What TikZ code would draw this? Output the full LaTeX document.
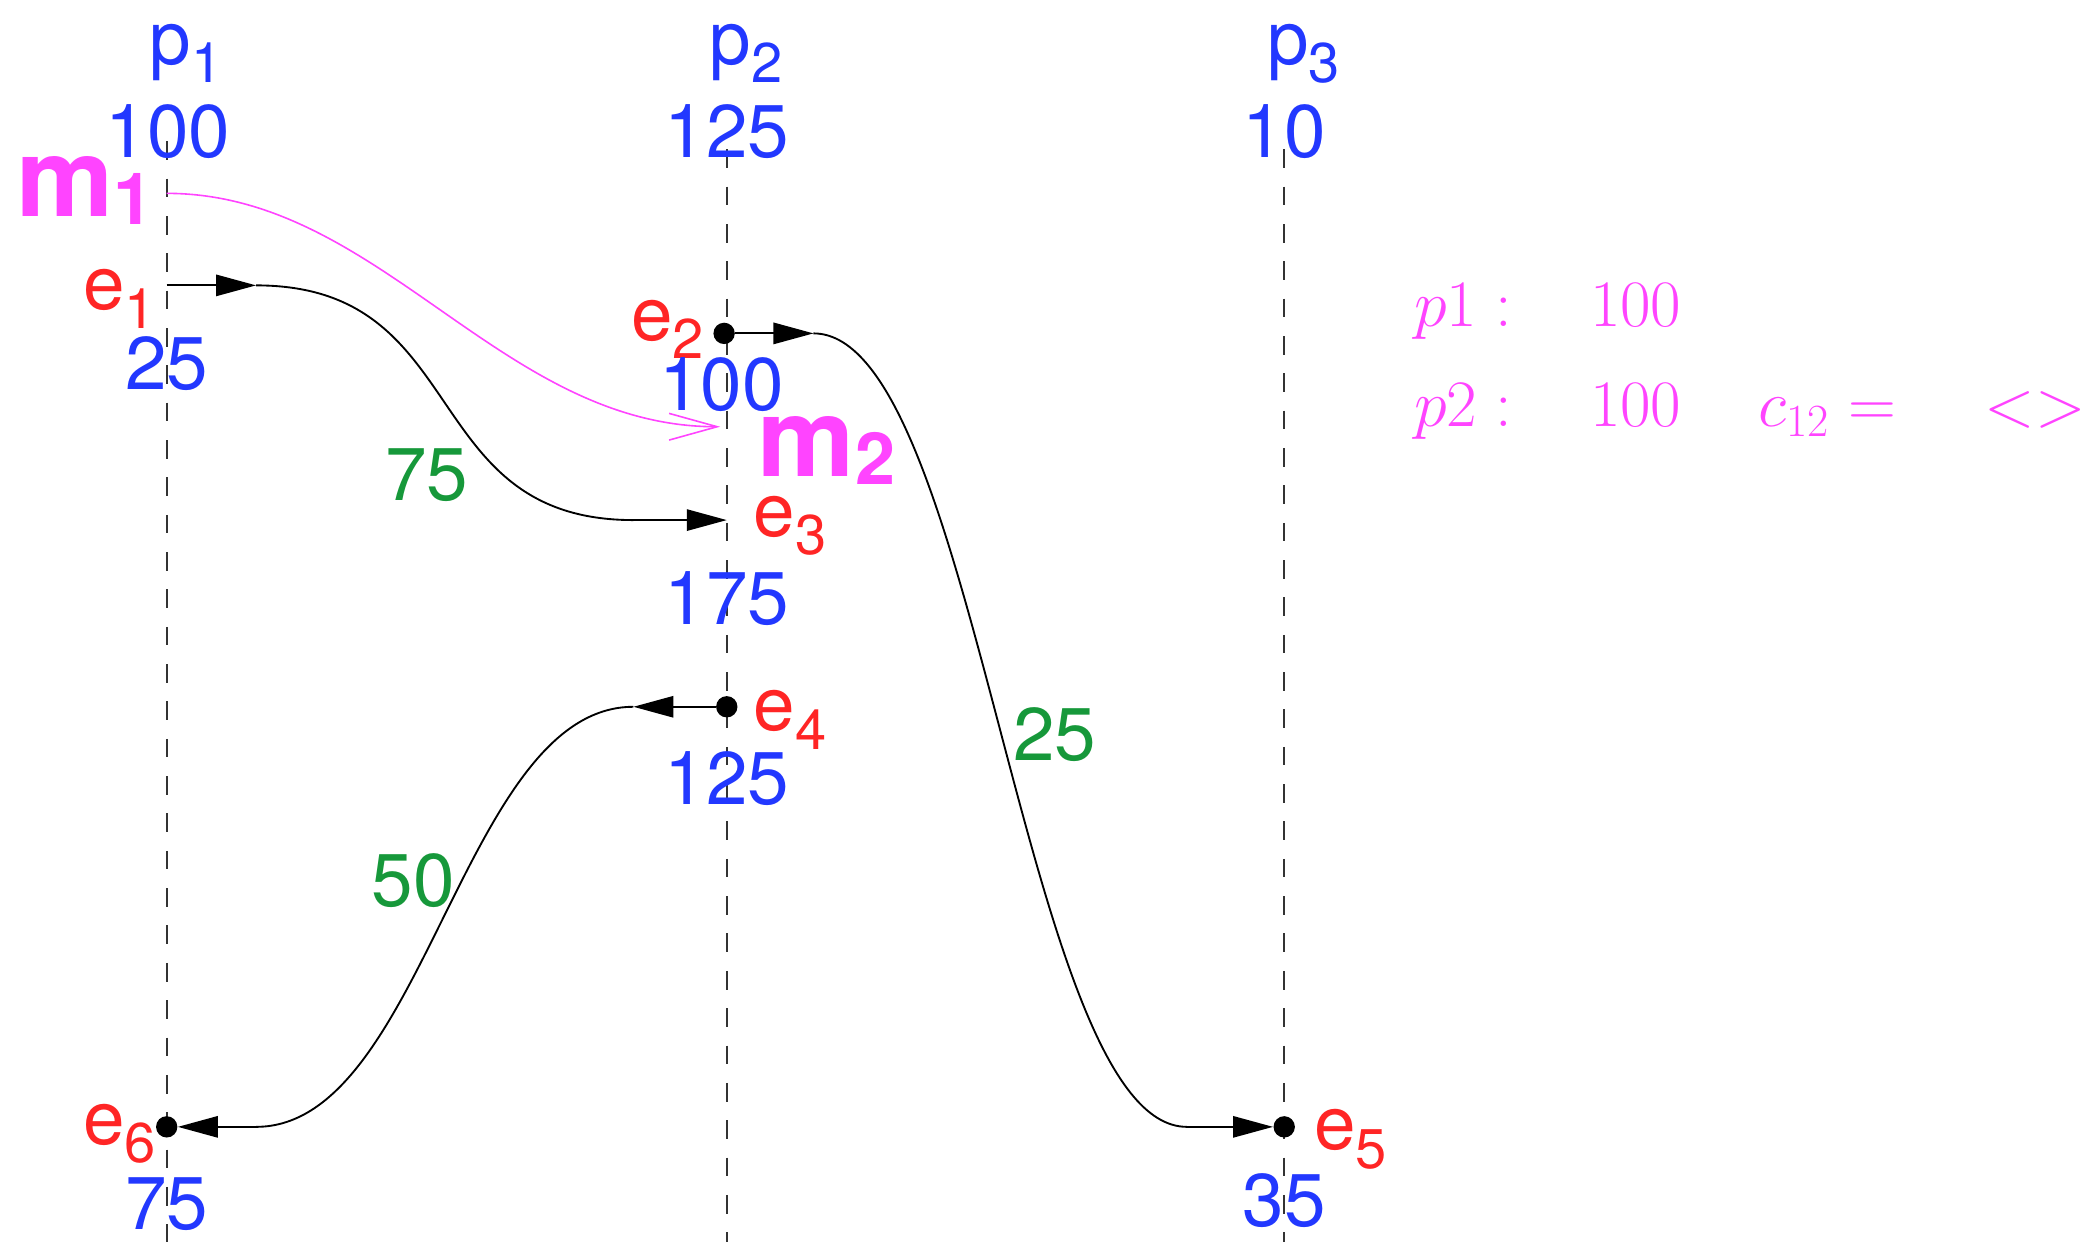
\documentclass[tikz,border=0pt]{standalone}
\usepackage[no-math]{fontspec}
\setmainfont{TeX Gyre Heros}
\usetikzlibrary{arrows.meta}
\definecolor{pblue}{HTML}{2238FF}
\definecolor{pred}{HTML}{FF2525}
\definecolor{pgreen}{HTML}{16983A}
\definecolor{pmag}{HTML}{FF44FF}
\newcommand\lsub[1]{\raisebox{-7pt}{\fontsize{21}{21}\selectfont #1}}
\newcommand\msub[1]{\raisebox{-3pt}{\fontsize{27}{27}\selectfont\bfseries #1}}
\begin{document}
\begin{tikzpicture}[x=0.5pt,y=-0.5pt,
  lbl/.style={inner sep=0pt, font=\fontsize{28}{30}\selectfont},
  proc/.style={lbl, text=pblue, anchor=base west},
  val/.style={lbl, text=pblue, anchor=base},
  ev/.style={lbl, text=pred, anchor=base west},
  dly/.style={lbl, text=pgreen, anchor=base},
  mlbl/.style={inner sep=0pt, text=pmag, anchor=base west, font=\fontsize{41}{45}\selectfont\bfseries},
  mtxt/.style={inner sep=0pt, text=pmag, anchor=base west, font=\fontsize{27}{30}\selectfont},
  life/.style={draw=black!80, line width=0.7pt, dash pattern=on 7pt off 7pt},
  msg/.style={draw=black, line width=0.7pt},
  tip/.style={-{Triangle[length=15pt,width=8pt]}},
  dot/.style={circle, fill=black, inner sep=0pt, minimum size=8pt},
  mmsg/.style={draw=pmag, line width=0.6pt, -{Straight Barb[length=18pt,width=10pt]}}
]
\useasboundingbox (0,0) rectangle (1568,931);

% lifelines
\coordinate (t1) at (125,106); \coordinate (b1) at (125,931);
\coordinate (t2) at (545,112); \coordinate (b2) at (545,931);
\coordinate (t3) at (963,112); \coordinate (b3) at (963,931);
\draw[life] (t1) -- (b1);
\draw[life] (t2) -- (b2);
\draw[life] (t3) -- (b3);

% events
\coordinate (E1) at (125,214);
\node[dot] (E2) at (543,250) {};
\coordinate (E3) at (545,390);
\node[dot] (E4) at (545,530) {};
\node[dot] (E5) at (963,845) {};
\node[dot] (E6) at (125,845) {};
\coordinate (M1) at (125,145);
\coordinate (M2) at (540,320);

% message e1 -> e3
\coordinate (a1) at (192,214); \coordinate (c1) at (475,390);
\draw[msg,tip] (E1) -- (a1);
\draw[msg] (a1) .. controls (355,214) and (312,390) .. (c1);
\draw[msg,tip] (c1) -- (E3);

% message e2 -> e5
\coordinate (a2) at (610,250); \coordinate (c2) at (890,845);
\draw[msg,tip] (E2) -- (a2);
\draw[msg] (a2) .. controls (733,250) and (767,845) .. (c2);
\draw[msg,tip] (c2) -- (E5);

% message e4 -> e6
\coordinate (a4) at (475,530); \coordinate (c4) at (192,845);
\draw[msg,tip] (E4) -- (a4);
\draw[msg] (a4) .. controls (347,530) and (318,845) .. (c4);
\draw[msg,tip] (c4) -- (E6);

% marker message m1 -> m2
\draw[mmsg] (M1) .. controls (285,145) and (375,320) .. (M2);

% process labels
\node[proc] (p1) at (112,48) {p\lsub{1}};
\node[proc] (p2) at (532,48) {p\lsub{2}};
\node[proc] (p3) at (950,48) {p\lsub{3}};
\node[val] (v1) at (126,118) {100};
\node[val] (v2) at (545,118) {125};
\node[val] (v3) at (963,118) {10};

% event labels
\node[ev] (le1) at (62,232) {e\lsub{1}};
\node[ev] (le2) at (473,255) {e\lsub{2}};
\node[ev] (le3) at (565,402) {e\lsub{3}};
\node[ev] (le4) at (565,548) {e\lsub{4}};
\node[ev] (le5) at (985,862) {e\lsub{5}};
\node[ev] (le6) at (62,858) {e\lsub{6}};

% clock values
\node[val] (w1) at (125,292) {25};
\node[val] (w2) at (541,308) {100};
\node[val] (w3) at (545,468) {175};
\node[val] (w4) at (545,603) {125};
\node[val] (w5) at (963,920) {35};
\node[val] (w6) at (125,922) {75};

% delays
\node[dly] (d1) at (320,375) {75};
\node[dly] (d2) at (791,570) {25};
\node[dly] (d3) at (310,680) {50};

% markers
\node[mlbl] (lm1) at (12,162) {m\msub{1}};
\node[mlbl] (lm2) at (568,357) {m\msub{2}};

% channel state
\node[mtxt] (s1) at (1060,245) {$p1:$};
\node[mtxt] (s1v) at (1192,245) {$100$};
\node[mtxt] (s2) at (1060,320) {$p2:$};
\node[mtxt] (s2v) at (1192,320) {$100$};
\node[mtxt] (s2c) at (1318,320) {$c_{12}=$};
\node[mtxt] (s2e) at (1488,320) {$<>$};
\end{tikzpicture}
\end{document}
